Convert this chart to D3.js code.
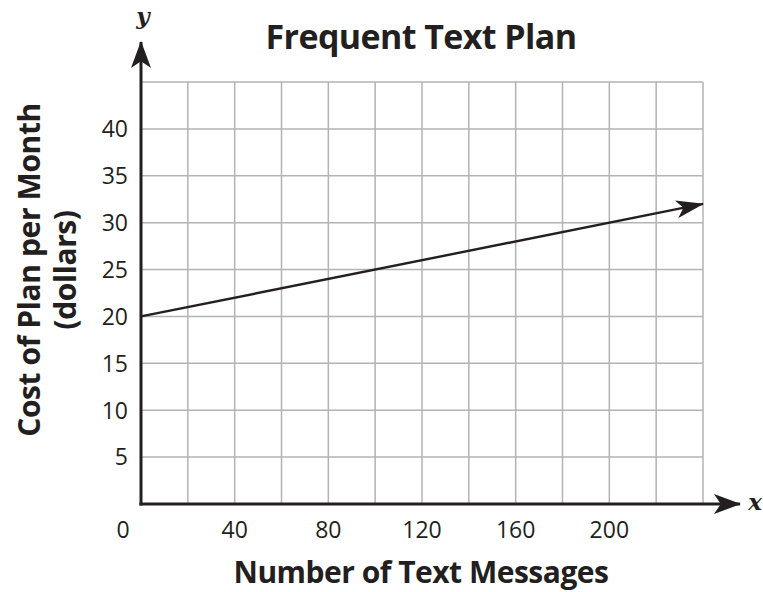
<!DOCTYPE html>
<html>
<style>
    body { margin: 0; background: #fff; }
    text { font-family: "Open Sans", sans-serif; fill: #231f20; }
    .grid line { stroke: #b3b3b3; stroke-width: 1.5; }
</style>
<body>
<svg width="763" height="592"></svg>
<script src="https://d3js.org/d3.v7.min.js"></script>
<script>
    // data
    var xTicks = [40, 80, 120, 160, 200];
    var yTicks = [5, 10, 15, 20, 25, 30, 35, 40];
    var xGrid = [20, 40, 60, 80, 100, 120, 140, 160, 180, 200, 220, 240];
    var yGrid = [5, 10, 15, 20, 25, 30, 35, 40, 45];
    var lineX = [0, 240];
    var lineY = [20, 32];

    var svg = d3.select("svg");
    var x = d3.scaleLinear().domain([0, 240]).range([141, 703]);
    var y = d3.scaleLinear().domain([0, 45]).range([504, 82]);

    var ink = "#231f20";

    // arrow markers
    var defs = svg.append("defs");
    function marker(id, w, h) {
        defs.append("marker")
            .attr("id", id)
            .attr("viewBox", "0 0 " + w + " " + h)
            .attr("refX", w - 1).attr("refY", h / 2)
            .attr("markerWidth", w).attr("markerHeight", h)
            .attr("markerUnits", "userSpaceOnUse")
            .attr("orient", "auto")
            .append("path")
            .attr("d", "M0,0 L" + w + "," + h / 2 + " L0," + h + " L" + w * 0.25 + "," + h / 2 + " Z")
            .attr("fill", ink);
    }
    marker("arrAxis", 27, 20);
    marker("arrLine", 28, 18);

    var grid = svg.append("g").attr("class", "grid");
    grid.selectAll(".vx").data(xGrid).enter().append("line")
        .attr("x1", d => x(d)).attr("x2", d => x(d))
        .attr("y1", y(0)).attr("y2", y(45));
    grid.selectAll(".hy").data(yGrid).enter().append("line")
        .attr("x1", x(0)).attr("x2", x(240))
        .attr("y1", d => y(d)).attr("y2", d => y(d));

    // axes
    svg.append("line")
        .attr("x1", x(0) - 1.5).attr("x2", 740)
        .attr("y1", y(0)).attr("y2", y(0))
        .attr("stroke", ink).attr("stroke-width", 3)
        .attr("marker-end", "url(#arrAxis)");
    svg.append("line")
        .attr("x1", x(0)).attr("x2", x(0))
        .attr("y1", y(0) + 1.5).attr("y2", 42)
        .attr("stroke", ink).attr("stroke-width", 3)
        .attr("marker-end", "url(#arrAxis)");

    // the plan line
    var pts = lineX.map((d, i) => [x(d), y(lineY[i])]);
    svg.append("path")
        .attr("d", d3.line()(pts))
        .attr("fill", "none")
        .attr("stroke", ink).attr("stroke-width", 2.4)
        .attr("marker-end", "url(#arrLine)");

    // tick labels
    svg.selectAll(".yl").data(yTicks).enter().append("text")
        .attr("x", 128).attr("y", d => y(d))
        .attr("dy", "0.36em")
        .attr("text-anchor", "end")
        .attr("font-size", 23).attr("font-weight", 500)
        .text(d => d);
    svg.selectAll(".xl").data(xTicks).enter().append("text")
        .attr("x", d => x(d)).attr("y", 538)
        .attr("text-anchor", "middle")
        .attr("font-size", 23).attr("font-weight", 500)
        .text(d => d);
    svg.append("text")
        .attr("x", 123).attr("y", 538)
        .attr("text-anchor", "middle")
        .attr("font-size", 23).attr("font-weight", 500)
        .text("0");

    // titles
    svg.append("text")
        .attr("x", 421).attr("y", 49)
        .attr("text-anchor", "middle")
        .attr("font-size", 34).attr("font-weight", "bold")
        .attr("letter-spacing", -0.6)
        .text("Frequent Text Plan");
    svg.append("text")
        .attr("x", 421).attr("y", 583)
        .attr("text-anchor", "middle")
        .attr("font-size", 30).attr("font-weight", "bold")
        .attr("letter-spacing", -0.5)
        .text("Number of Text Messages");
    var yt = svg.append("text")
        .attr("transform", "translate(40,270) rotate(-90)")
        .attr("text-anchor", "middle")
        .attr("font-size", 30).attr("font-weight", "bold")
        .attr("letter-spacing", -0.4);
    yt.append("tspan").attr("x", 0).attr("dy", 0).text("Cost of Plan per Month");
    yt.append("tspan").attr("x", 0).attr("dy", 36).text("(dollars)");

    // axis letters
    svg.append("text")
        .attr("x", 143).attr("y", 24)
        .attr("text-anchor", "middle")
        .style("font-family", "'DejaVu Serif', serif")
        .attr("font-style", "italic").attr("font-weight", "bold")
        .attr("font-size", 23)
        .text("y");
    svg.append("text")
        .attr("x", 755).attr("y", 510)
        .attr("text-anchor", "middle")
        .style("font-family", "'DejaVu Serif', serif")
        .attr("font-style", "italic").attr("font-weight", "bold")
        .attr("font-size", 23)
        .text("x");
</script>
</body>
</html>
